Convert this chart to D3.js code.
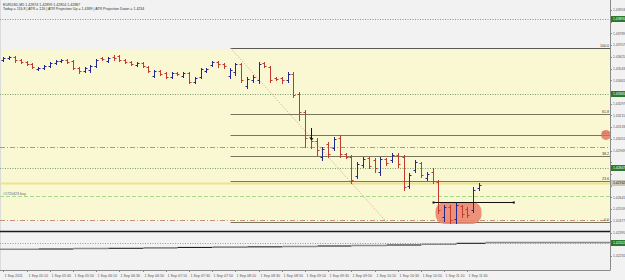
<!DOCTYPE html>
<html lang="en">
<head>
  <meta charset="utf-8">
  <title>EURUSD M5</title>
  <script src="https://d3js.org/d3.v7.min.js"></script>
  <style>
    body { margin: 0; padding: 0; overflow: hidden; background: #f2f2f2; }
    svg { display: block; font-family: "Liberation Sans", Arial, sans-serif; }
  </style>
</head>
<body>
  <svg id="chart"></svg>
  <script>
    // bar times (M5) and OHLC
    const times = ["04:50","04:55",
      "05:00","05:05","05:10","05:15","05:20","05:25","05:30","05:35","05:40","05:45","05:50","05:55",
      "06:00","06:05","06:10","06:15","06:20","06:25","06:30","06:35","06:40","06:45","06:50","06:55",
      "07:00","07:05","07:10","07:15","07:20","07:25","07:30","07:35","07:40","07:45","07:50","07:55",
      "08:00","08:05","08:10","08:15","08:20","08:25","08:30","08:35","08:40","08:45","08:50","08:55",
      "09:00","09:05","09:10","09:15","09:20","09:25","09:30","09:35","09:40","09:45","09:50","09:55",
      "10:00","10:05","10:10","10:15","10:20","10:25","10:30","10:35","10:40","10:45","10:50","10:55",
      "11:00","11:05","11:10","11:15","11:20","11:25","11:30","11:35","11:40"];
    const opens = [1.43603,1.43617,1.43624,1.43603,1.43589,1.43575,1.43540,1.43547,1.43561,1.43582,1.43596,1.43603,1.43596,1.43547,1.43526,1.43533,1.43561,1.43617,1.43596,1.43624,1.43631,1.43603,1.43589,1.43568,1.43582,1.43554,1.43491,1.43526,1.43512,1.43484,1.43512,1.43491,1.43512,1.43449,1.43484,1.43526,1.43568,1.43589,1.43575,1.43491,1.43519,1.43575,1.43421,1.43463,1.43463,1.43582,1.43554,1.43477,1.43477,1.43463,1.43505,1.43365,1.43239,1.43064,1.43036,1.42924,1.43015,1.42987,1.43057,1.42945,1.42924,1.42791,1.42868,1.42917,1.42903,1.42819,1.42910,1.42903,1.42938,1.42924,1.42721,1.42833,1.42882,1.42777,1.42819,1.42749,1.42504,1.42574,1.42490,1.42581,1.42560,1.42553,1.42707];
    const highs = [1.43624,1.43631,1.43631,1.43610,1.43596,1.43582,1.43554,1.43568,1.43589,1.43603,1.43610,1.43610,1.43603,1.43554,1.43554,1.43568,1.43610,1.43624,1.43624,1.43638,1.43638,1.43610,1.43596,1.43589,1.43589,1.43561,1.43533,1.43533,1.43519,1.43519,1.43519,1.43519,1.43519,1.43484,1.43547,1.43547,1.43596,1.43596,1.43582,1.43547,1.43582,1.43582,1.43484,1.43498,1.43589,1.43589,1.43561,1.43484,1.43484,1.43519,1.43519,1.43379,1.43253,1.43092,1.43057,1.42994,1.43029,1.43064,1.43078,1.42952,1.42938,1.42889,1.42924,1.42924,1.42917,1.42924,1.42917,1.42952,1.42952,1.42938,1.42812,1.42903,1.42889,1.42819,1.42847,1.42763,1.42588,1.42588,1.42602,1.42588,1.42574,1.42714,1.42742];
    const lows = [1.43596,1.43610,1.43589,1.43582,1.43568,1.43547,1.43533,1.43540,1.43554,1.43575,1.43589,1.43582,1.43540,1.43512,1.43519,1.43519,1.43554,1.43603,1.43589,1.43603,1.43596,1.43582,1.43568,1.43561,1.43554,1.43519,1.43484,1.43498,1.43477,1.43477,1.43498,1.43484,1.43442,1.43442,1.43477,1.43519,1.43561,1.43554,1.43547,1.43477,1.43498,1.43449,1.43407,1.43449,1.43442,1.43554,1.43449,1.43463,1.43442,1.43449,1.43344,1.43183,1.42994,1.42987,1.42938,1.42903,1.42924,1.42973,1.42924,1.42917,1.42742,1.42777,1.42854,1.42847,1.42819,1.42798,1.42868,1.42889,1.42854,1.42693,1.42707,1.42819,1.42784,1.42763,1.42742,1.42532,1.42476,1.42462,1.42462,1.42504,1.42504,1.42539,1.42693];
    const closes = [1.43617,1.43624,1.43603,1.43589,1.43575,1.43554,1.43547,1.43561,1.43582,1.43596,1.43603,1.43589,1.43547,1.43526,1.43547,1.43561,1.43603,1.43610,1.43617,1.43617,1.43603,1.43589,1.43575,1.43582,1.43561,1.43526,1.43526,1.43505,1.43484,1.43512,1.43505,1.43512,1.43449,1.43477,1.43540,1.43540,1.43589,1.43575,1.43561,1.43533,1.43575,1.43463,1.43470,1.43484,1.43575,1.43561,1.43463,1.43470,1.43463,1.43505,1.43358,1.43239,1.43057,1.43036,1.42973,1.42980,1.42945,1.43050,1.42945,1.42924,1.42763,1.42875,1.42910,1.42861,1.42847,1.42910,1.42882,1.42938,1.42875,1.42714,1.42798,1.42889,1.42798,1.42805,1.42756,1.42553,1.42574,1.42483,1.42588,1.42525,1.42518,1.42693,1.42728];

    // horizontal levels
    const atrLevels = [1.43890, 1.43365, 1.42847, 1.42322];
    const dashDotLevels = [1.42994, 1.42483];
    const bidLevel = 1.42742;
    const blackLevel = 1.42406;
    const orderLevel = 1.42651;
    const orderLabel = "#1720423 buy";
    const bandTop = 1.43673, bandBottom = 1.42469;

    // fibonacci retracement
    const fibHigh = 1.43687, fibLow = 1.42469;
    const fibStart = "08:05", fibEnd = "10:20";
    const fibRatios = [0, 23.6, 38.2, 50, 61.8, 100];

    // stepped indicator line
    const stepTimes = ["04:50","05:20","05:50","06:20","06:50","07:20","07:50","08:20","08:50","09:20","09:50","10:20","10:50","11:20","11:45"];
    const stepValues = [1.42278,1.42280,1.42283,1.42285,1.42288,1.42291,1.42293,1.42295,1.42298,1.42301,1.42304,1.42308,1.42313,1.42320,1.42325];

    // objects
    const hlStart = "11:00", hlEnd = "11:40", hlTop = 1.42609, hlBottom = 1.42455;
    const segStart = "11:00", segEnd = "12:10", segPrice = 1.42609;
    const arrowTime = "09:15", arrowTop = 1.43127, arrowBottom = 1.43043;

    const priceTicks = [1.43953,1.43871,1.43789,1.43707,1.43625,1.43543,1.43461,1.43379,1.43297,1.43215,1.43133,1.43051,1.42969,1.42887,1.42805,1.42723,1.42641,1.42559,1.42477,1.42395,1.42313,1.42231];
    const xTickTimes = ["04:50","05:10","05:30","05:50","06:10","06:30","06:50","07:10","07:30","07:50","08:10","08:30","08:50","09:10","09:30","09:50","10:10","10:30","10:50","11:10","11:30"];
    const xTickLabels = ["1 Sep 2011","1 Sep 05:10","1 Sep 05:30","1 Sep 05:50","1 Sep 06:10","1 Sep 06:30","1 Sep 06:50","1 Sep 07:10","1 Sep 07:30","1 Sep 07:50","1 Sep 08:10","1 Sep 08:30","1 Sep 08:50","1 Sep 09:10","1 Sep 09:30","1 Sep 09:50","1 Sep 10:10","1 Sep 10:30","1 Sep 10:50","1 Sep 11:10","1 Sep 11:30"];

    const header1 = "EURUSD,M5  1.42874 1.42899 1.42854 1.42887";
    const header2 = "Today = 116.8   |   ATR = 126   |   ATR Projection Up = 1.4389   |   ATR Projection Down = 1.4234";

    const width = 625, height = 280;
    const plotRight = 610, axisY = 270;
    const parse = d3.timeParse("%H:%M");

    const svg = d3.select("#chart").attr("width", width).attr("height", height);

    const x = d3.scaleTime()
      .domain([parse(times[0]), parse(times[times.length - 1])])
      .range([3.4, 479]);
    const y = d3.scaleLinear()
      .domain([1.44023, 1.42063])
      .range([0, height]);

    const px = v => Math.round(x(parse(v))) + 0.5;
    const py = v => Math.round(y(v)) + 0.5;

    svg.append("rect").attr("width", width).attr("height", height).attr("fill", "#f2f2f2");

    // yellow band
    svg.append("rect")
      .attr("x", 2).attr("y", y(bandTop))
      .attr("width", plotRight - 2).attr("height", y(bandBottom) - y(bandTop))
      .attr("fill", "#faf8d3");

    svg.append("line").attr("x1", 0.5).attr("x2", 0.5).attr("y1", 0).attr("y2", axisY)
      .attr("stroke", "#dcdcdc");

    const hline = (v, x1, x2, color, w, dash) => svg.append("line")
      .attr("x1", x1).attr("x2", x2).attr("y1", py(v)).attr("y2", py(v))
      .attr("stroke", color).attr("stroke-width", w)
      .attr("stroke-dasharray", dash || null);

    // full width levels
    atrLevels.forEach((v, i) => hline(v, 0, plotRight, i === 3 ? "#9a9a9a" : "#7f9f6a", 1, "1,1.5"));
    dashDotLevels.forEach(v => hline(v, 0, plotRight, "#c98f80", 1, "5,2,1,2"));
    hline(orderLevel, 0, plotRight, "#a6d98a", 1, "4,2");
    hline(bidLevel, 0, plotRight, "#ece38c", 2);
    hline(blackLevel, 0, plotRight, "#1a1a1a", 1.6);

    svg.append("text").attr("x", 3).attr("y", py(orderLevel) - 2)
      .attr("font-size", 3.6).attr("fill", "#666").text(orderLabel);

    // stepped line
    stepTimes.forEach((t, i) => {
      const x2 = i < stepTimes.length - 1 ? px(stepTimes[i + 1]) : plotRight;
      svg.append("line")
        .attr("x1", i === 0 ? 0 : px(t)).attr("x2", x2)
        .attr("y1", y(stepValues[i])).attr("y2", y(stepValues[i]))
        .attr("stroke", i % 2 ? "#111" : "#8a8a8a")
        .attr("stroke-width", i % 2 ? 1 : 1.6);
    });

    // fibonacci
    const fibG = svg.append("g");
    const fx1 = px(fibStart);
    fibRatios.forEach(r => {
      const v = fibLow + (fibHigh - fibLow) * r / 100;
      fibG.append("line")
        .attr("x1", fx1).attr("x2", plotRight).attr("y1", py(v)).attr("y2", py(v))
        .attr("stroke", r === 100 ? "#5a5a5a" : "#77775e").attr("stroke-width", 1);
      fibG.append("text")
        .attr("x", plotRight - 1).attr("y", py(v) - 1.5)
        .attr("text-anchor", "end").attr("font-size", 3.6).attr("fill", "#333")
        .text(r.toFixed(1));
    });
    fibG.append("line")
      .attr("x1", fx1).attr("y1", y(fibHigh))
      .attr("x2", px(fibEnd)).attr("y2", y(fibLow))
      .attr("stroke", "#d0a888").attr("stroke-dasharray", "1,1.5");

    // red marker on the 50 level
    svg.append("circle")
      .attr("cx", plotRight - 4).attr("cy", y(fibLow + (fibHigh - fibLow) / 2))
      .attr("r", 5).attr("fill", "#e46a58").attr("opacity", 0.75);

    // highlighted bars
    svg.append("rect")
      .attr("x", px(hlStart) + 2).attr("y", y(hlTop))
      .attr("width", px(hlEnd) - px(hlStart)).attr("height", y(hlBottom) - y(hlTop))
      .attr("rx", 9).attr("fill", "#ea8068").attr("opacity", 0.85);

    // OHLC bars
    const bars = svg.append("g");
    times.forEach((t, i) => {
      const bx = px(t);
      const up = closes[i] >= opens[i];
      bars.append("path")
        .attr("d", `M${bx},${py(highs[i]) - 0.5}V${py(lows[i]) + 0.5}` +
          `M${bx - 2},${py(opens[i])}H${bx}M${bx},${py(closes[i])}H${bx + 2}`)
        .attr("stroke", up ? "#26268f" : "#c3392b")
        .attr("stroke-width", 1).attr("fill", "none");
    });

    // horizontal segment object
    const sx1 = px(segStart), sx2 = x(parse(segEnd));
    svg.append("line")
      .attr("x1", sx1).attr("x2", sx2).attr("y1", py(segPrice)).attr("y2", py(segPrice))
      .attr("stroke", "#111").attr("stroke-width", 1);
    [sx1, sx2].forEach(sx => svg.append("rect")
      .attr("x", sx - 1).attr("y", py(segPrice) - 1).attr("width", 2).attr("height", 2)
      .attr("fill", "#111"));

    // down arrow
    const ax = px(arrowTime);
    svg.append("path")
      .attr("d", `M${ax},${y(arrowTop)}V${y(arrowBottom)}M${ax - 1.5},${y(arrowBottom) - 2}L${ax},${y(arrowBottom)}L${ax + 1.5},${y(arrowBottom) - 2}`)
      .attr("stroke", "#111").attr("fill", "none").attr("stroke-width", 1);

    // header
    svg.append("text").attr("x", 3).attr("y", 5.5).attr("font-size", 3.6).attr("fill", "#333").text(header1);
    svg.append("text").attr("x", 3).attr("y", 10).attr("font-size", 3.6).attr("fill", "#333").text(header2);

    // right price axis
    svg.append("line").attr("x1", plotRight + 0.5).attr("x2", plotRight + 0.5)
      .attr("y1", 0).attr("y2", axisY).attr("stroke", "#8a8a8a");
    const axisG = svg.append("g");
    const tagged = atrLevels.concat([bidLevel]);
    priceTicks.forEach(v => {
      axisG.append("line").attr("x1", plotRight).attr("x2", plotRight + 2)
        .attr("y1", py(v)).attr("y2", py(v)).attr("stroke", "#8a8a8a");
      if (tagged.some(t => Math.abs(y(t) - y(v)) < 6.5)) return;
      axisG.append("text").attr("x", plotRight + 3).attr("y", y(v) + 1.3)
        .attr("font-size", 3.4).attr("fill", "#555").text(v.toFixed(5));
    });
    const tag = (v, bg, fg) => {
      axisG.append("rect").attr("x", plotRight + 1).attr("y", y(v) - 3)
        .attr("width", width - plotRight - 1).attr("height", 6).attr("fill", bg);
      axisG.append("text").attr("x", plotRight + 3).attr("y", y(v) + 1.3)
        .attr("font-size", 3.4).attr("fill", fg).text(v.toFixed(5));
    };
    atrLevels.forEach(v => tag(v, "#2a7a2a", "#fff"));
    tag(bidLevel, "#c8c8b4", "#222");

    // time axis
    svg.append("line").attr("x1", 0).attr("x2", plotRight + 0.5)
      .attr("y1", axisY + 0.5).attr("y2", axisY + 0.5).attr("stroke", "#8a8a8a");
    xTickTimes.forEach((t, i) => {
      svg.append("line").attr("x1", px(t)).attr("x2", px(t))
        .attr("y1", axisY).attr("y2", axisY + 2).attr("stroke", "#8a8a8a");
      svg.append("text").attr("x", px(t) + 1).attr("y", axisY + 7)
        .attr("font-size", 3.6).attr("fill", "#555").text(xTickLabels[i]);
    });
  </script>
</body>
</html>
